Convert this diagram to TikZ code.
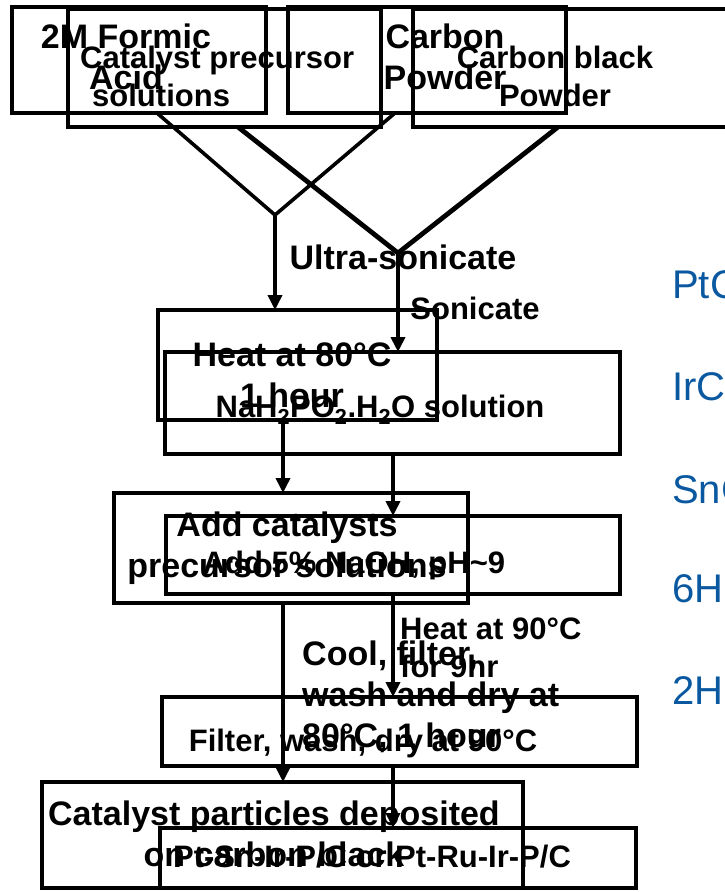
\documentclass[tikz,border=0pt]{standalone}
\usepackage{fontspec}
\setmainfont{Liberation Sans}
\usetikzlibrary{arrows.meta}
\definecolor{chemblue}{RGB}{10,88,160}

\begin{document}
\begin{tikzpicture}[
    x=1bp, y=-1bp,
    boxA/.style={rectangle,draw,line width=3.6bp,inner sep=0pt,outer sep=0pt},
    boxB/.style={rectangle,draw,line width=4.8bp,inner sep=0pt,outer sep=0pt},
    txtA/.style={inner sep=0pt,align=center,font=\fontsize{34bp}{41bp}\selectfont\bfseries},
    txtB/.style={inner sep=0pt,align=center,font=\fontsize{31bp}{38bp}\selectfont\bfseries},
    chem/.style={inner sep=0pt,anchor=west,text=chemblue,font=\fontsize{40bp}{44bp}\selectfont},
    lineA/.style={line width=3.6bp},
    lineB/.style={line width=4.8bp},
    arrowA/.style={lineA,-{Triangle[length=15bp,width=14bp]}},
    arrowB/.style={lineB,-{Triangle[length=15bp,width=14bp]}}
  ]
    \useasboundingbox (0,0) rectangle (725,892);
    \clip (0,0) rectangle (725,892);

    % first flow: formic acid route
    \node[boxA,minimum width=254bp,minimum height=106bp] (formic) at (139,60) {};
    \node[boxA,minimum width=278bp,minimum height=106bp] (carbonA) at (427,60) {};
    \node[boxA,minimum width=279bp,minimum height=110bp] (heatA) at (297.5,365) {};
    \node[boxA,minimum width=354bp,minimum height=110bp] (addA) at (291,548) {};
    \node[boxA,minimum width=481bp,minimum height=106bp] (depA) at (282.5,835) {};

    \node[txtA] (formicT) at (126,57) {2M Formic\\Acid};
    \node[txtA] (carbonAT) at (445,57) {Carbon\\Powder};
    \node[txtA] (ultraT) at (403,257) {Ultra-sonicate};
    \node[txtA] (heatAT) at (292,375) {Heat at 80°C\\1 hour};
    \node[txtA] (addAT) at (287,548) {Add catalysts\\precursor solutions};
    \node[txtA,align=left,anchor=west] (coolT) at (302,697) {Cool, filter,\\wash and dry at\\80°C, 1 hour};
    \node[txtA] (depAT) at (274,834) {Catalyst particles deposited\\on carbon black};

    \coordinate (vA) at (275,215);
    \coordinate (colA) at (283,0);
    \draw[lineA] (formic.south -| 157,0) -- (vA);
    \draw[lineA] (carbonA.south -| 395,0) -- (vA);
    \draw[arrowA] (vA) -- (heatA.north -| vA);
    \draw[arrowA] (heatA.south -| colA) -- (addA.north -| colA);
    \draw[arrowA] (addA.south -| colA) -- (depA.north -| colA);

    % second flow: hypophosphite route
    \node[boxB,minimum width=313bp,minimum height=118bp] (precB) at (224.5,68) {};
    \node[boxB,minimum width=367bp,minimum height=118bp] (carbonB) at (596.5,68) {};
    \node[boxB,minimum width=455bp,minimum height=102bp] (naB) at (392.5,403) {};
    \node[boxB,minimum width=454bp,minimum height=78bp] (naohB) at (393,555) {};
    \node[boxB,minimum width=475bp,minimum height=69bp] (filtB) at (399.5,731.5) {};
    \node[boxB,minimum width=476bp,minimum height=60bp] (ptB) at (398,858) {};

    \node[txtB,align=left,anchor=west] (precBT) at (80,76) {Catalyst precursor\\\hspace*{12bp}solutions};
    \node[txtB] (carbonBT) at (555,76) {Carbon black\\Powder};
    \node[txtB] (sonT) at (475,308) {Sonicate};
    \node[txtB] (naBT) at (380,410) {NaH\textsubscript{2}PO\textsubscript{2}.H\textsubscript{2}O solution};
    \node[txtB] (naohBT) at (354,565) {Add 5\% NaOH, pH\textasciitilde 9};
    \node[txtB,align=left,anchor=west] (heatBT) at (400,648) {Heat at 90°C\\for 9hr};
    \node[txtB] (filtBT) at (363,743) {Filter, wash, dry at 90°C};
    \node[txtB] (ptBT) at (372,857) {Pt-Sn-Ir-P/C or Pt-Ru-Ir-P/C};

    \coordinate (vB) at (398,253);
    \coordinate (colB) at (393,0);
    \draw[lineB] (precB.south -| 238,0) -- (vB);
    \draw[lineB] (carbonB.south -| 558,0) -- (vB);
    \draw[arrowB] (vB) -- (naB.north -| vB);
    \draw[arrowB] (naB.south -| colB) -- (naohB.north -| colB);
    \draw[arrowB] (naohB.south -| colB) -- (filtB.north -| colB);
    \draw[arrowB] (filtB.south -| colB) -- (ptB.north -| colB);

    % precursor list, cut by the right edge
    \node[chem] (pt) at (672,284) {PtCl};
    \node[chem] (ir) at (672,386) {IrCl};
    \node[chem] (sn) at (672,489) {SnCl};
    \node[chem] (hsix) at (672,589) {6H};
    \node[chem] (htwo) at (672,691) {2H};
  \end{tikzpicture}
\end{document}
